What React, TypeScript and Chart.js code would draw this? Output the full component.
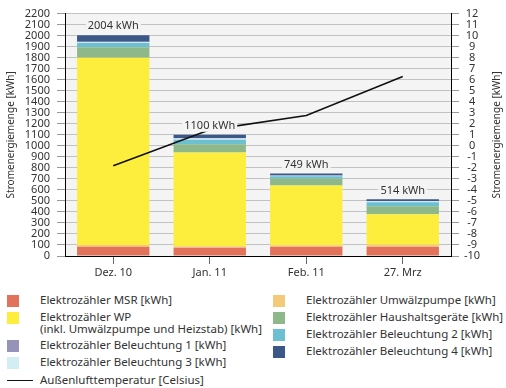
import React, { useEffect, useRef } from 'react';
import { Chart, registerables } from 'chart.js';

Chart.register(...registerables);

const categories = ['Dez. 10', 'Jan. 11', 'Feb. 11', '27. Mrz'];
const msr = [85, 74, 83, 83];
const umwaelzpumpe = [15, 15, 15, 20];
const wp = [1700, 851, 541, 276];
const haushalt = [94, 74, 65, 73];
const beleuchtung2 = [40, 42, 20, 36];
const beleuchtung3 = [7, 11, 5, 8];
const beleuchtung1 = [3, 3, 2, 3];
const beleuchtung4 = [60, 30, 18, 15];
const temperatur = [-1.8, 1.45, 2.75, 6.3];
const totals = [2004, 1100, 749, 514];

const leftMin = 0;
const leftMax = 2200;
const leftStep = 100;
const rightMin = -10;
const rightMax = 12;
const rightStep = 1;
const axisTitle = 'Stromenergiemenge [kWh]';

const FONT = '"Noto Sans", "DejaVu Sans", sans-serif';
const TEXT = '#333333';
const PLOT_BG = '#f4f4f4';

const colors = {
  msr: '#e2735a',
  umwaelz: '#f3c97a',
  wp: '#fdee3e',
  haushalt: '#8fb88a',
  bel2: '#6cc0d2',
  bel3: '#d3edf5',
  bel1: '#9594b8',
  bel4: '#3b5889',
};

const barSeries = [
  { label: 'Elektrozähler MSR [kWh]', data: msr, color: colors.msr },
  { label: 'Elektrozähler Umwälzpumpe [kWh]', data: umwaelzpumpe, color: colors.umwaelz },
  { label: 'Elektrozähler WP (inkl. Umwälzpumpe und Heizstab) [kWh]', data: wp, color: colors.wp },
  { label: 'Elektrozähler Haushaltsgeräte [kWh]', data: haushalt, color: colors.haushalt },
  { label: 'Elektrozähler Beleuchtung 2 [kWh]', data: beleuchtung2, color: colors.bel2 },
  { label: 'Elektrozähler Beleuchtung 3 [kWh]', data: beleuchtung3, color: colors.bel3 },
  { label: 'Elektrozähler Beleuchtung 1 [kWh]', data: beleuchtung1, color: colors.bel1 },
  { label: 'Elektrozähler Beleuchtung 4 [kWh]', data: beleuchtung4, color: colors.bel4 },
];

const plotBgPlugin = {
  id: 'plotBg',
  beforeDraw(chart: any) {
    const { ctx, chartArea } = chart;
    ctx.save();
    ctx.fillStyle = PLOT_BG;
    ctx.fillRect(chartArea.left, chartArea.top, chartArea.right - chartArea.left, chartArea.bottom - chartArea.top);
    ctx.restore();
  },
};

const axisTitlesPlugin = {
  id: 'axisTitles',
  afterDraw(chart: any) {
    const { ctx, chartArea } = chart;
    const cy = (chartArea.top + chartArea.bottom) / 2;
    ctx.save();
    ctx.font = `10px ${FONT}`;
    ctx.fillStyle = TEXT;
    ctx.textAlign = 'center';
    ctx.textBaseline = 'middle';
    [11, 497].forEach((x) => {
      ctx.save();
      ctx.translate(x, cy);
      ctx.rotate(-Math.PI / 2);
      ctx.fillText(axisTitle, 0, 0);
      ctx.restore();
    });
    ctx.restore();
  },
};

const totalsPlugin = {
  id: 'totals',
  afterDatasetsDraw(chart: any) {
    const { ctx } = chart;
    const xs = chart.scales.x;
    const ys = chart.scales.y;
    ctx.save();
    ctx.font = `11px ${FONT}`;
    ctx.textAlign = 'center';
    ctx.textBaseline = 'middle';
    totals.forEach((t, i) => {
      const px = xs.getPixelForValue(i);
      const py = ys.getPixelForValue(t) - 9;
      const text = `${t} kWh`;
      const w = ctx.measureText(text).width;
      ctx.fillStyle = PLOT_BG;
      ctx.fillRect(px - w / 2 - 2, py - 6, w + 4, 12);
      ctx.fillStyle = TEXT;
      ctx.fillText(text, px, py);
    });
    ctx.restore();
  },
};

function ChartCanvas() {
  const ref = useRef<HTMLCanvasElement>(null);
  useEffect(() => {
    if (!ref.current) return;
    const datasets: any[] = barSeries.map((s) => ({
      type: 'bar',
      label: s.label,
      data: s.data,
      backgroundColor: s.color,
      borderWidth: 0,
      yAxisID: 'y',
      stack: 'energy',
      order: 1,
      categoryPercentage: 1,
      barPercentage: 0.75,
    }));
    datasets.push({
      type: 'line',
      label: 'Außenlufttemperatur [Celsius]',
      data: temperatur,
      borderColor: '#111111',
      borderWidth: 1.6,
      pointRadius: 0,
      fill: false,
      tension: 0,
      yAxisID: 'y2',
      order: 0,
    });
    const chart = new Chart(ref.current, {
      type: 'bar',
      data: { labels: categories, datasets },
      plugins: [plotBgPlugin, totalsPlugin, axisTitlesPlugin],
      options: {
        responsive: false,
        animation: false,
        devicePixelRatio: 1,
        layout: { padding: { top: 7, left: 0, right: 0, bottom: 0 } },
        plugins: {
          legend: { display: false },
          tooltip: { enabled: false },
        },
        scales: {
          x: {
            stacked: true,
            grid: {
              display: true,
              drawOnChartArea: false,
              offset: false,
              tickLength: 8,
              tickColor: '#666666',
            },
            border: { display: true, color: '#000000', width: 1 },
            ticks: { color: TEXT, font: { family: FONT, size: 11 }, padding: 2 },
            afterFit(s: any) {
              s.height = 34;
            },
          },
          y: {
            stacked: true,
            position: 'left',
            min: leftMin,
            max: leftMax,
            ticks: {
              stepSize: leftStep,
              autoSkip: false,
              color: TEXT,
              font: { family: FONT, size: 11 },
              padding: 7,
              callback: (v: any) => String(v),
            },
            grid: { color: '#c2c2c2', tickLength: 8, tickColor: '#999999' },
            border: { display: true, color: '#000000', width: 1 },
            afterFit(s: any) {
              s.width = 65;
            },
          },
          y2: {
            stacked: false,
            position: 'right',
            min: rightMin,
            max: rightMax,
            ticks: {
              stepSize: rightStep,
              autoSkip: false,
              color: TEXT,
              font: { family: FONT, size: 11 },
              padding: 5,
              crossAlign: 'center',
              callback: (v: any) => String(v),
            },
            grid: { drawOnChartArea: false, tickLength: 8, tickColor: '#999999' },
            border: { display: true, color: '#000000', width: 1 },
            afterFit(s: any) {
              s.width = 55;
            },
          },
        },
      } as any,
    });
    return () => chart.destroy();
  }, []);
  return <canvas ref={ref} width={506} height={290} style={{ display: 'block', width: 506, height: 290 }} />;
}

type LegendItem = { lines: string[]; color?: string; isLine?: boolean; x: number; y: number };

const legendItems: LegendItem[] = [
  { lines: ['Elektrozähler MSR [kWh]'], color: colors.msr, x: 7, y: 301 },
  { lines: ['Elektrozähler WP', '(inkl. Umwälzpumpe und Heizstab) [kWh]'], color: colors.wp, x: 7, y: 318 },
  { lines: ['Elektrozähler Beleuchtung 1 [kWh]'], color: colors.bel1, x: 7, y: 346 },
  { lines: ['Elektrozähler Beleuchtung 3 [kWh]'], color: colors.bel3, x: 7, y: 363 },
  { lines: ['Außenlufttemperatur [Celsius]'], isLine: true, x: 7, y: 381 },
  { lines: ['Elektrozähler Umwälzpumpe [kWh]'], color: colors.umwaelz, x: 273, y: 301 },
  { lines: ['Elektrozähler Haushaltsgeräte [kWh]'], color: colors.haushalt, x: 273, y: 318 },
  { lines: ['Elektrozähler Beleuchtung 2 [kWh]'], color: colors.bel2, x: 273, y: 335 },
  { lines: ['Elektrozähler Beleuchtung 4 [kWh]'], color: colors.bel4, x: 273, y: 352 },
];

function Legend() {
  return (
    <>
      {legendItems.map((it, i) => (
        <div key={i} style={{ position: 'absolute', left: 0, top: 0 }}>
          {it.isLine ? (
            <div
              style={{
                position: 'absolute',
                left: it.x,
                top: it.y - 1,
                width: 26,
                height: 0,
                borderTop: '1.6px solid #111',
              }}
            />
          ) : (
            <div
              style={{
                position: 'absolute',
                left: it.x,
                top: it.y - 6,
                width: 12,
                height: 12,
                background: it.color,
              }}
            />
          )}
          <div
            style={{
              position: 'absolute',
              left: it.x + 33,
              top: it.y - 7,
              whiteSpace: 'nowrap',
              fontFamily: FONT,
              fontSize: 11.5,
              lineHeight: '12px',
              color: TEXT,
            }}
          >
            {it.lines.map((l, j) => (
              <div key={j}>{l}</div>
            ))}
          </div>
        </div>
      ))}
    </>
  );
}

export default function App() {
  return (
    <div style={{ position: 'absolute', left: 0, top: 0, width: 506, height: 388, background: '#ffffff', overflow: 'hidden' }}>
      <ChartCanvas />
      <Legend />
    </div>
  );
}
